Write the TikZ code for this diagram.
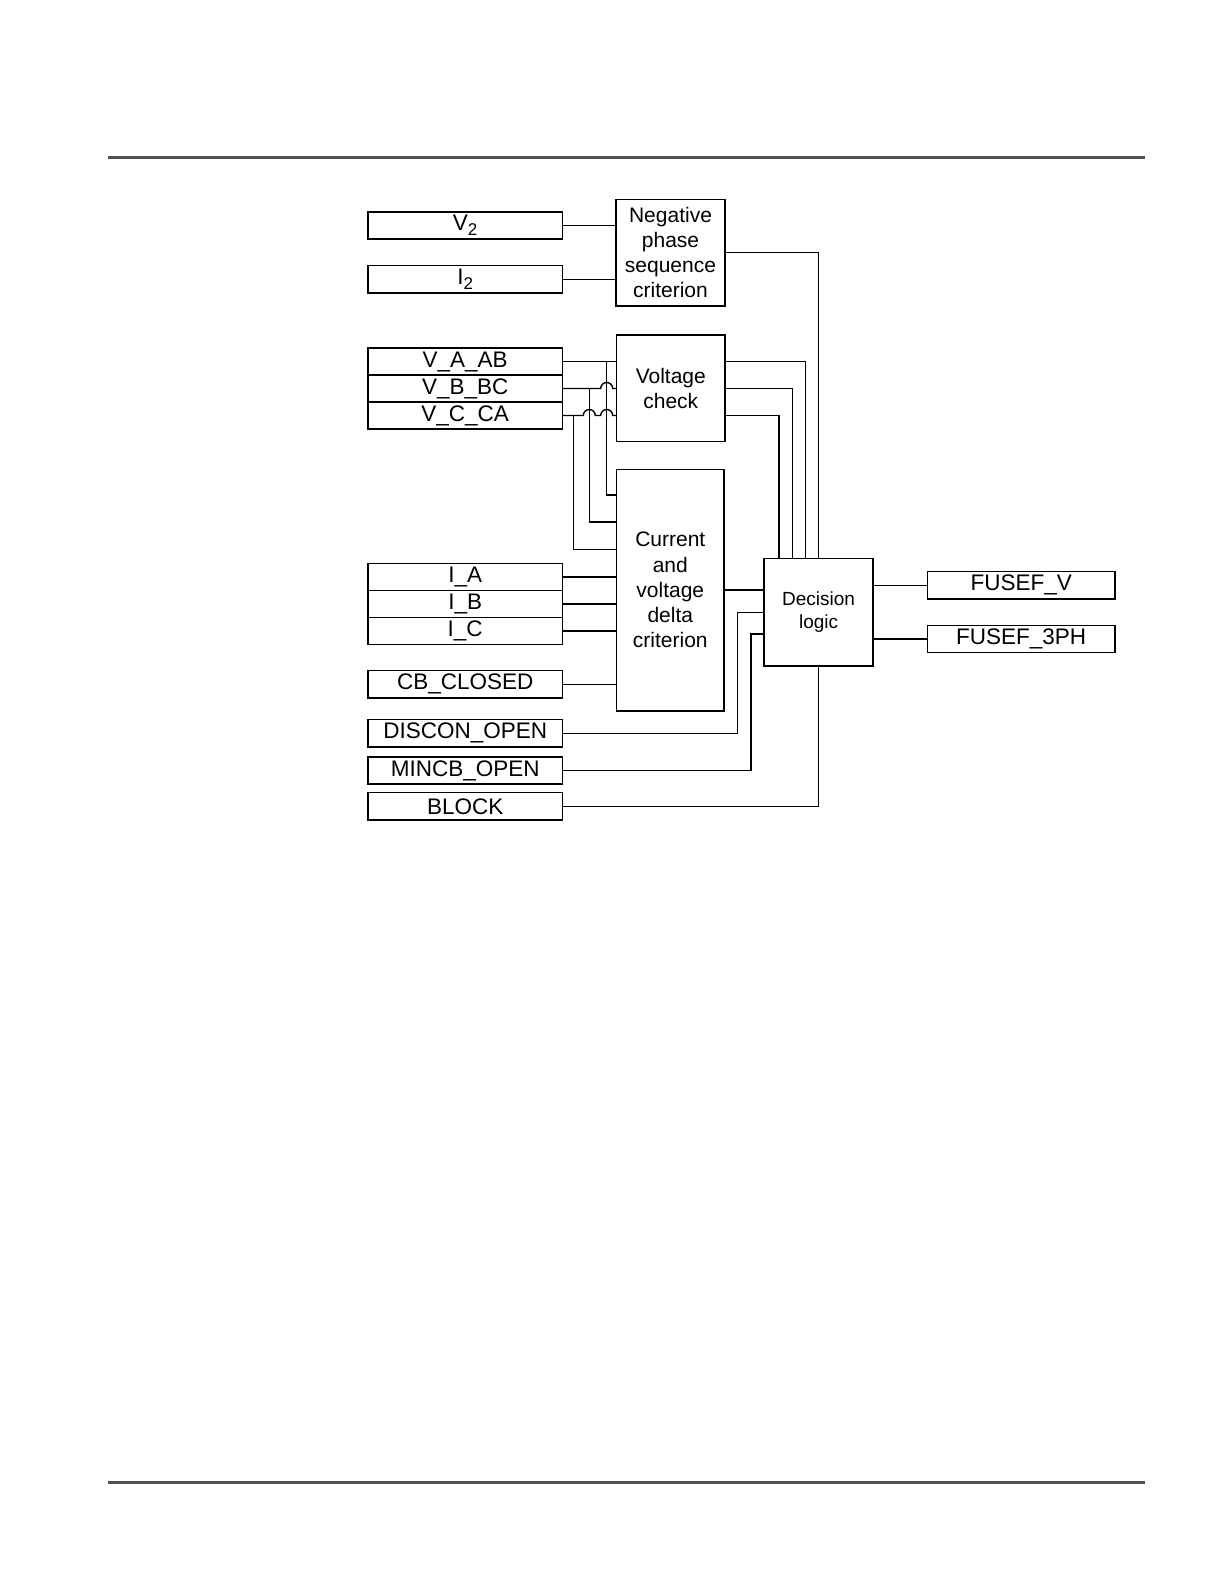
\documentclass[tikz,border=0pt]{standalone}
\usepackage{fontspec}
\setmainfont{Liberation Sans}
\newcommand{\lowtwo}{\raisebox{-0.45ex}{\fontsize{8.5}{9}\selectfont 2}}
\begin{document}
\begin{tikzpicture}[x=0.5pt,y=-0.5pt,
  inbox/.style={draw, line width=0.8pt, minimum width=97.15pt, minimum height=13.65pt, inner sep=0pt,
    font=\fontsize{11.25}{13}\selectfont},
  outbox/.style={inbox, minimum width=93.85pt},
  blockbox/.style={draw, line width=0.8pt, inner sep=0pt, align=center,
    font=\fontsize{10.5}{12.6}\selectfont},
  wire/.style={line width=0.7pt},
  pagerule/.style={line width=1.5pt, draw=black!68}]
\useasboundingbox (0,0) rectangle (1224,1584);
% page rules
\draw[pagerule] (108,157.5) coordinate (tl) -- (1145,157.5) coordinate (tr);
\draw[pagerule] (108,1482.5) coordinate (bl) -- (1145,1482.5) coordinate (br);

% input boxes
\node[inbox] (v2) at (465.2,225.5) {V\lowtwo};
\node[inbox] (i2) at (465.2,279.2) {I\lowtwo};
\node[inbox] (vaab) at (465.2,361.5) {V\_A\_AB};
\node[inbox] (vbbc) at (465.2,388.5) {V\_B\_BC};
\node[inbox] (vcca) at (465.2,415.5) {V\_C\_CA};
\node[inbox] (ia) at (465.2,577) {I\_A};
\node[inbox] (ib) at (465.2,604) {I\_B};
\node[inbox] (ic) at (465.2,631) {I\_C};
\node[inbox] (cb) at (465.2,684.3) {CB\_CLOSED};
\node[inbox] (discon) at (465.2,733.3) {DISCON\_OPEN};
\node[inbox] (mincb) at (465.2,770.5) {MINCB\_OPEN};
\node[inbox] (block) at (465.2,806.3) {BLOCK};

% function blocks
\node[blockbox, minimum width=54.5pt, minimum height=53.2pt] (nps) at (670.5,252.5)
  {Negative\\phase\\sequence\\criterion};
\node[blockbox, minimum width=54.2pt, minimum height=53.25pt] (vcheck) at (670.8,388.2)
  {Voltage\\check};
\node[blockbox, minimum width=53.7pt, minimum height=120.7pt] (cvd) at (670.3,590)
  {Current\\and\\voltage\\delta\\criterion};
\node[blockbox, minimum width=54.35pt, minimum height=53.85pt,
  font=\fontsize{9.5}{11.6}\selectfont] (dec) at (818.6,612.2) {Decision\\logic};

% output boxes
\node[outbox] (fusefv) at (1021.2,585.3) {FUSEF\_V};
\node[outbox] (fusef3) at (1021.2,639) {FUSEF\_3PH};

% negative sequence inputs / output
\draw[wire] (v2.east) -- (v2.east -| nps.west);
\draw[wire] (i2.east) -- (i2.east -| nps.west);
\draw[wire] (nps.east) -| (dec.north);

% voltage inputs to voltage check (with hops)
\draw[wire] (vaab.east) -- (vaab.east -| vcheck.west);
\draw[wire] (vbbc.east) -- (600.7,388.5) arc[start angle=180,end angle=0,radius=3pt]
  -- (vbbc.east -| vcheck.west);
\draw[wire] (vcca.east) -- (583.3,415.5) arc[start angle=180,end angle=0,radius=3pt]
  -- (600.7,415.5) arc[start angle=180,end angle=0,radius=3pt]
  -- (vcca.east -| vcheck.west);

% branches of the voltages to the delta criterion
\coordinate (ba) at (606.7,361.5);
\coordinate (bb) at (589.3,388.5);
\coordinate (bc) at (573.3,415.5);
\coordinate (ea) at (0,495);
\coordinate (eb) at (0,522);
\coordinate (ec) at (0,549.5);
\draw[wire] (ba) |- (cvd.west |- ea);
\draw[wire] (bb) |- (cvd.west |- eb);
\draw[wire] (bc) |- (cvd.west |- ec);

% current and breaker inputs
\draw[wire] (ia.east) -- (ia.east -| cvd.west);
\draw[wire] (ib.east) -- (ib.east -| cvd.west);
\draw[wire] (ic.east) -- (ic.east -| cvd.west);
\draw[wire] (cb.east) -- (cb.east -| cvd.west);

% voltage check outputs
\coordinate (da) at ([xshift=-6.5pt]dec.north);
\coordinate (db) at ([xshift=-13.15pt]dec.north);
\coordinate (dc) at ([xshift=-19.8pt]dec.north);
\draw[wire] (vcheck.east |- vaab.east) -| (da);
\draw[wire] (vcheck.east |- vbbc.east) -| (db);
\draw[wire] (vcheck.east |- vcca.east) -| (dc);

% delta criterion output
\draw[wire] (cvd.east) -- (cvd.east -| dec.west);

% discon, mincb, block
\draw[wire] (discon.east) -| ([xshift=-13pt]dec.west) -- (dec.west);
\draw[wire] (mincb.east) -| ([xshift=-6.3pt,yshift=-10.9pt]dec.west) -- ([yshift=-10.9pt]dec.west);
\draw[wire] (block.east) -| (dec.south);

% outputs
\draw[wire] (dec.east |- fusefv.west) -- (fusefv.west);
\draw[wire] (dec.east |- fusef3.west) -- (fusef3.west);
\end{tikzpicture}
\end{document}
